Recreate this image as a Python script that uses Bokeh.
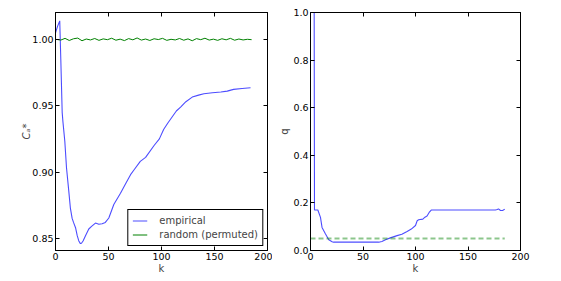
from bokeh.plotting import figure
from bokeh.layouts import row
from bokeh.models import LinearAxis, Range1d, FixedTicker, PrintfTickFormatter, Legend, LegendItem
from bokeh.embed import file_html
from bokeh.resources import INLINE

# ---- data ----
emp_k = [0, 2, 4, 5, 6.3, 7, 8.8, 10.4, 12.6, 14, 15.7, 17, 18.9, 20.5, 22, 23.5, 24.5, 26,
         28.3, 31.4, 34, 37.7, 40.9, 44, 47, 50.3, 55, 61.3, 66, 70.8, 74, 80, 85, 93, 98,
         102, 106, 110, 114, 118, 123, 129, 135, 140, 148, 156, 162, 168, 176, 184]
emp_v = [1.005, 1.010, 1.014, 0.985, 0.945, 0.938, 0.923, 0.903, 0.885, 0.873, 0.865, 0.862,
         0.858, 0.852, 0.848, 0.846, 0.8463, 0.848, 0.852, 0.857, 0.859, 0.8615, 0.8606,
         0.861, 0.862, 0.8653, 0.8755, 0.884, 0.891, 0.898, 0.9015, 0.908, 0.911, 0.920,
         0.925, 0.932, 0.937, 0.9415, 0.946, 0.949, 0.953, 0.9565, 0.958, 0.959, 0.9598,
         0.9603, 0.961, 0.9623, 0.963, 0.9635]

rnd_k = list(range(1, 186, 4))
rnd_v = [1.0000, 0.9995, 1.0008, 0.9992, 1.0005, 1.0010, 0.9990, 1.0003, 0.9996, 1.0007,
         0.9993, 1.0004, 0.9998, 1.0009, 0.9994, 1.0002, 0.9991, 1.0006, 0.9997, 1.0011,
         0.9995, 1.0003, 0.9992, 1.0005, 0.9999, 1.0008, 0.9993, 1.0001, 0.9996, 1.0007,
         0.9994, 1.0004, 0.9990, 1.0006, 0.9998, 1.0009, 0.9995, 1.0002, 0.9993, 1.0005,
         0.9997, 1.0008, 0.9994, 1.0003, 0.9996, 1.0001, 0.9998]

q_k = [1, 3.5, 3.8, 7, 9.5, 11, 14.3, 17.4, 20.6, 22, 65, 68, 71.4, 76, 82.5, 87, 92, 96,
       100, 101.6, 103, 107, 109, 111, 113, 115, 160, 176, 178, 179, 181, 183, 185]
q_v = [1.0, 1.0, 0.17, 0.17, 0.139, 0.097, 0.069, 0.045, 0.037, 0.035, 0.035, 0.038, 0.045,
       0.053, 0.0625, 0.068, 0.08, 0.09, 0.105, 0.125, 0.129, 0.132, 0.14, 0.145, 0.16,
       0.17, 0.17, 0.17, 0.172, 0.175, 0.168, 0.168, 0.174]

thr_k = [0, 185]
thr_v = [0.05, 0.05]

x_ticks = [0, 50, 100, 150, 200]
y1_ticks = [0.85, 0.90, 0.95, 1.00]
y2_ticks = [0.0, 0.2, 0.4, 0.6, 0.8, 1.0]

TICK_FS = "9.5px"
LABEL_FS = "10px"
BLUE = "#0000ff"
GREEN = "#008000"


def style_axis(ax, ticks, fmt, show_labels=True):
    ax.ticker = FixedTicker(ticks=ticks)
    if fmt:
        ax.formatter = PrintfTickFormatter(format=fmt)
    ax.major_tick_in = 4
    ax.major_tick_out = 0
    ax.minor_tick_in = 0
    ax.minor_tick_out = 0
    ax.axis_line_color = "black"
    ax.major_tick_line_color = "black"
    ax.major_label_text_font = "DejaVu Sans"
    ax.axis_label_text_font = "DejaVu Sans"
    ax.axis_label_text_font_size = LABEL_FS
    ax.axis_label_text_font_style = "normal"
    if show_labels:
        ax.major_label_text_color = "black"
        ax.major_label_text_font_size = TICK_FS
        ax.major_label_standoff = 2
    else:
        ax.major_label_text_color = None
        ax.major_label_text_font_size = "1px"
        ax.major_label_standoff = 0
        ax.axis_label_standoff = 0


def make_fig(width, ylo, yhi, yticks, yfmt, mbl, mbr):
    p = figure(width=width, height=276, output_backend="svg", toolbar_location=None,
               x_range=Range1d(0, 200), y_range=Range1d(ylo, yhi),
               min_border_left=mbl, min_border_right=mbr, min_border_top=12,
               min_border_bottom=24)
    p.xgrid.visible = False
    p.ygrid.visible = False
    p.outline_line_color = "black"
    p.outline_line_width = 1
    p.background_fill_color = "white"
    p.border_fill_color = "white"
    style_axis(p.xaxis[0], x_ticks, None)
    style_axis(p.yaxis[0], yticks, yfmt)
    p.xaxis[0].axis_label = "k"
    p.xaxis[0].axis_label_standoff = 0
    top = LinearAxis()
    style_axis(top, x_ticks, None, show_labels=False)
    right = LinearAxis()
    style_axis(right, yticks, yfmt, show_labels=False)
    p.add_layout(top, "above")
    p.add_layout(right, "right")
    return p


p1 = make_fig(272, 0.8408, 1.0203, y1_ticks, "%.2f", 55, 5)
p1.yaxis[0].axis_label = "Cₐ*"
p1.yaxis[0].axis_label_text_font_style = "italic"
p1.yaxis[0].axis_label_standoff = -3
l_emp = p1.line(emp_k, emp_v, line_color=BLUE, line_alpha=0.7, line_width=1.1)
l_rnd = p1.line(rnd_k, rnd_v, line_color=GREEN, line_width=1)
legend = Legend(items=[LegendItem(label="empirical", renderers=[l_emp]),
                       LegendItem(label="random (permuted)", renderers=[l_rnd])],
                location="bottom_right")
legend.margin = 4
legend.padding = 4
legend.spacing = 1
legend.glyph_width = 15
legend.glyph_height = 13
legend.label_height = 13
legend.label_standoff = 12
legend.label_text_font = "DejaVu Sans"
legend.label_text_font_size = "10px"
legend.border_line_color = "black"
legend.border_line_width = 1
legend.border_line_alpha = 1
legend.background_fill_alpha = 1
legend.border_radius = 0
p1.add_layout(legend, "center")

p2 = make_fig(268, 0.0, 1.0, y2_ticks, "%.1f", 38, 20)
p2.yaxis[0].axis_label = "q"
p2.yaxis[0].axis_label_standoff = 0
p2.line(q_k, q_v, line_color=BLUE, line_alpha=0.7, line_width=1.1)
p2.line(thr_k, thr_v, line_color=GREEN, line_alpha=0.45, line_width=2, line_dash="5 3")

layout = row(p1, p2)
open("out.html", "w").write(file_html(layout, INLINE))
